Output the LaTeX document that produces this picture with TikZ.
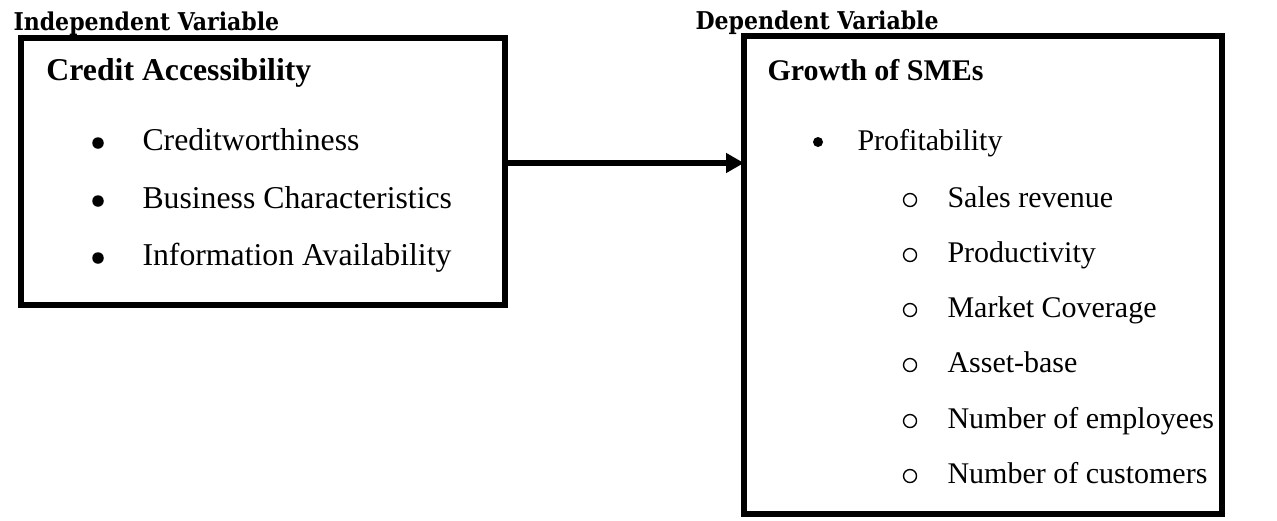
\documentclass[tikz,border=0pt]{standalone}
\usepackage{fontspec}
\setmainfont{Liberation Serif}
\newfontfamily\headfont{DejaVu Serif Condensed}
\usetikzlibrary{arrows.meta}

\begin{document}
\begin{tikzpicture}[x=0.4pt, y=-0.4pt, font=\fontsize{12.7}{15}\selectfont,
    >={Triangle[length=7.2pt, width=7.6pt]},
    varbox/.style={draw, line width=2.5pt, rectangle, outer sep=0pt, inner sep=0pt},
    head/.style={anchor=base west, inner sep=0pt, font=\headfont\bfseries\fontsize{9.8}{11}\selectfont},
    title/.style={anchor=base west, inner sep=0pt, font=\bfseries\fontsize{12.7}{15}\selectfont},
    item/.style={anchor=base west, inner sep=0pt},
    dot/.style={circle, fill, inner sep=0pt, minimum size=4.6pt},
    ring/.style={circle, draw, line width=0.55pt, inner sep=0pt, minimum size=5.2pt},
    small/.style={font=\fontsize{12}{14}\selectfont}]
  \useasboundingbox (0,0) rectangle (1277,520);
  % headings over the two boxes
  \node[head] (hindep) at (13,30) {Independent Variable};
  \node[head] (hdep) at (695,29) {Dependent Variable};
  % independent variable box
  \node[varbox, minimum width=193.6pt, minimum height=106.8pt] (indep) at (263,171.5) {};
  \node[title] (credit) at (46,80) {Credit Accessibility};
  \foreach \txt/\yy/\nm in {Creditworthiness/150/cw, Business Characteristics/208/bc,
      Information Availability/265/ia} {
    \node[dot] (d\nm) at (98,\yy-7) {};
    \node[item] (\nm) at (142,\yy) {\txt};
  }
  % dependent variable box
  \node[varbox, minimum width=191.2pt, minimum height=191.2pt] (dep) at (983,275) {};
  \node[title, font=\bfseries\fontsize{12}{14}\selectfont] (growth) at (767,80) {Growth of SMEs};
  \node[dot, minimum size=4pt] (dprof) at (818,142) {};
  \node[item, small] (prof) at (857,150) {Profitability};
  \foreach \txt/\yy/\nm in {Sales revenue/207/sr, Productivity/262/pr, Market Coverage/317/mc,
      Asset-base/372/ab, Number of employees/428/ne, Number of customers/483/nc} {
    \node[ring] (o\nm) at (910,\yy-7) {};
    \node[item, small] (\nm) at (947,\yy) {\txt};
  }
  \draw[->, line width=2.4pt] ([yshift=3.4pt]indep.east) -- ([yshift=3.4pt]indep.east -| dep.west);
\end{tikzpicture}
\end{document}
